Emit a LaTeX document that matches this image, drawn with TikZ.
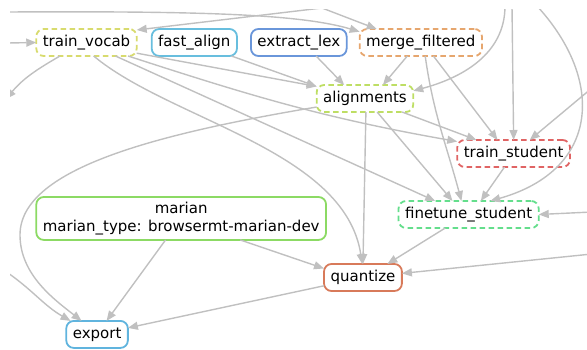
\documentclass[tikz,border=0pt]{standalone}
\usepackage{fontspec}
\setmainfont{DejaVu Sans}
\usetikzlibrary{arrows.meta,positioning}

\definecolor{edgegray}{RGB}{192,192,192}
\definecolor{vocabcol}{RGB}{216,219,110}
\definecolor{fastcol}{RGB}{104,190,222}
\definecolor{lexcol}{RGB}{106,150,218}
\definecolor{mergecol}{RGB}{230,166,110}
\definecolor{aligncol}{RGB}{190,222,100}
\definecolor{studentcol}{RGB}{224,100,100}
\definecolor{tunecol}{RGB}{100,222,140}
\definecolor{mariancol}{RGB}{140,218,100}
\definecolor{quantcol}{RGB}{216,122,90}
\definecolor{exportcol}{RGB}{96,180,222}

\begin{document}
\begin{tikzpicture}[x=1pt,y=-1pt,>={Triangle[length=10pt,width=8pt]},
  every node/.style={shape=rectangle,draw,rounded corners=7.5pt,line width=1.8pt,outer sep=0pt,
    inner xsep=6.5pt,inner ysep=6.25pt,text height=11pt,text depth=3.5pt,
    font=\fontsize{15pt}{18pt}\selectfont},
  rule/.style={dash pattern=on 5.5pt off 3.5pt},
  link/.style={->,draw=edgegray,line width=1.4pt}]
	\useasboundingbox (0,0) rectangle (587,350);

	% create the nodes
	\node (vocab) [rule, draw=vocabcol] at (86.5,42.5) {train\_vocab};
	\node (fast) [right =15pt of vocab, draw=fastcol] {fast\_align};
	\node (lex) [right =14pt of fast, draw=lexcol] {extract\_lex};
	\node (merge) [right =13pt of lex, rule, draw=mergecol] {merge\_filtered};
	\node (align) [below right =29pt and -30pt of lex, rule, draw=aligncol] {alignments};
	\node (student) [below right =28pt and 44pt of align, rule, draw=studentcol] {train\_student};
	\node (tune) [below =34pt of student, xshift=-45pt, rule, draw=tunecol] {finetune\_student};
	\node (marian) [below right =141pt and 0pt of vocab.south west, draw=mariancol, align=center,
	  text height=, text depth=, inner ysep=5pt] {marian\\marian\_type: browsermt-marian-dev};
	\node (quant) [below =152pt of align, xshift=-2pt, draw=quantcol] {quantize};
	\node (export) [below right =81pt and 30pt of marian.south west, draw=exportcol] {export};

	% ends of the connectors leaving the frame
	\coordinate (topA) at (8,12);
	\coordinate (topB) at (322,8);
	\coordinate (inL) at (8,43);
	\coordinate (outL) at (6,99);
	\coordinate (inLL) at (8,273);
	\coordinate (topR) at (505,6);
	\coordinate (topS) at (512,6);
	\coordinate (topT) at (537,6);
	\coordinate (sideS) at (592,88);
	\coordinate (sideT) at (592,212);
	\coordinate (sideQ) at (592,254);

	% connect the nodes
	\begin{scope}
	\clip (10,10) rectangle (590,355);
	\draw[link] (inL) to (vocab.west);
	\draw[link] (topA) .. controls (200,11) and (300,14) .. (merge.170);
	\draw[link] (topB) to (merge.163);
	\draw[link] (topB) to (vocab.14);
	\draw[link] (vocab.-153) to[out=-150, in=50] (outL);
	\draw[link] (vocab.-12) to (align.166);
	\draw[link] (fast.-20) to (align.166);
	\draw[link] (lex.-38) to (align.147);
	\draw[link] (merge.-135) to (align.37);
	\draw[link] (topR) to[out=-90, in=15] (align.9);
	\draw[link] (vocab.-18) to[out=-18, in=170] (student.168);
	\draw[link] (align.-20) to (student.160);
	\draw[link] (merge.-47) to (student.140);
	\draw[link] (topS) to (student.north);
	\draw[link] (sideS) to (student.40);
	\draw[link] (vocab.-25) to (tune.158);
	\draw[link] (align.-48) to (tune.140);
	\draw[link] (merge.-72) to[out=-82, in=105] (tune.118);
	\draw[link] (student.-124) to (tune.48);
	\draw[link] (topT) .. controls (605,80) and (600,170) .. (tune.32);
	\draw[link] (sideT) to (tune.east);
	\draw[link] (vocab.-62) .. controls (170,120) and (345,150) .. (quant.93);
	\draw[link] (align.-86) to (quant.north);
	\draw[link] (marian.-20) to (quant.167);
	\draw[link] (tune.-150) to (quant.29);
	\draw[link] (sideQ) to (quant.6);
	\draw[link] (align.190) .. controls (150,135) and (20,170) .. (20,235)
	  .. controls (20,275) and (55,300) .. (export.139);
	\draw[link] (inLL) to[out=-35, in=150] (export.153);
	\draw[link] (marian.-126) to (export.55);
	\draw[link] (quant.192) to (export.12);
	\end{scope}
\end{tikzpicture}
\end{document}
